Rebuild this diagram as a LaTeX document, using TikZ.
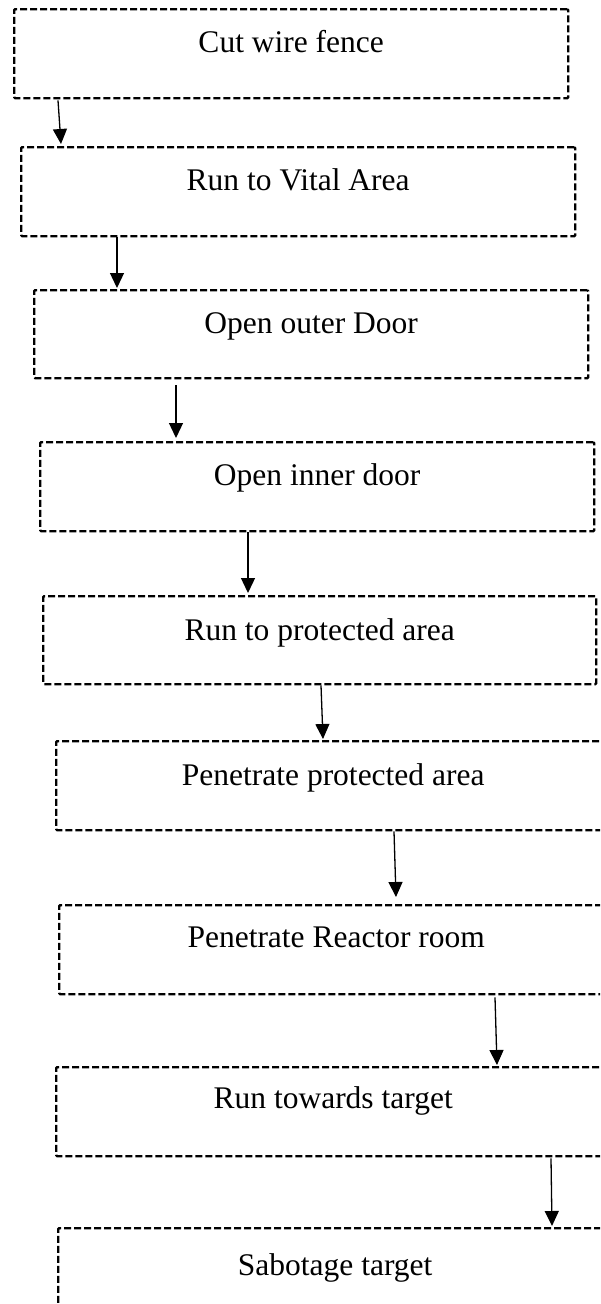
\documentclass[tikz,border=0pt]{standalone}
\usepackage{fontspec}
\setmainfont{Liberation Serif}
\usetikzlibrary{arrows.meta}
\begin{document}
\begin{tikzpicture}[x=1pt,y=-1pt]
\tikzset{
  stepbox/.style={draw, line width=2.4pt, dash pattern=on 7pt off 3pt,
    minimum width=554pt, minimum height=89pt, inner sep=0pt,
    anchor=north west, rounded corners=1pt},
  lbl/.style={font=\fontsize{31.5}{36}\selectfont, anchor=base, inner sep=0pt},
  arr/.style={line width=1.3pt, -{Triangle[width=14pt,length=15pt]}}
}
\useasboundingbox (0,0) rectangle (600,1304);
\clip (0,0) rectangle (600,1304);
% boxes
\node[stepbox] (b1) at (13,8) {};
\node[stepbox] (b2) at (20,146) {};
\node[stepbox, minimum height=88pt] (b3) at (33,289) {};
\node[stepbox] (b4) at (39,441) {};
\node[stepbox, minimum width=553pt, minimum height=88pt] (b5) at (42,595) {};
\node[stepbox] (b6) at (55,740) {};
\node[stepbox] (b7) at (58,904) {};
\node[stepbox] (b8) at (55,1066) {};
\node[stepbox] (b9) at (57,1227) {};
% labels
\node[lbl] (t1) at ([yshift=-44pt]b1.north) {Cut wire fence};
\node[lbl] (t2) at ([yshift=-44pt]b2.north) {Run to Vital Area};
\node[lbl] (t3) at ([yshift=-44pt]b3.north) {Open outer Door};
\node[lbl] (t4) at ([yshift=-44pt]b4.north) {Open inner door};
\node[lbl] (t5) at ([yshift=-45pt]b5.north) {Run to protected area};
\node[lbl] (t6) at ([yshift=-45pt]b6.north) {Penetrate protected area};
\node[lbl] (t7) at ([yshift=-43pt]b7.north) {Penetrate Reactor room};
\node[lbl] (t8) at ([yshift=-42pt]b8.north) {Run towards target};
\node[lbl] (t9) at ([yshift=-48pt]b9.north) {Sabotage target};
% arrows
\draw[arr] ([xshift=45pt,yshift=-1pt]b1.south west) -- ([xshift=41pt,yshift=2pt]b2.north west);
\draw[arr] ([xshift=97pt]b2.south west) -- ([xshift=84pt,yshift=1pt]b3.north west);
\draw[arr] ([xshift=143pt,yshift=-6pt]b3.south west) -- ([xshift=137pt,yshift=3pt]b4.north west);
\draw[arr] ([xshift=209pt]b4.south west) -- ([xshift=206pt,yshift=2pt]b5.north west);
\draw[arr] ([xshift=279pt]b5.south west) -- ([xshift=268pt,yshift=1pt]b6.north west);
\draw[arr] ([xshift=339pt]b6.south west) -- ([xshift=338pt,yshift=7pt]b7.north west);
\draw[arr] ([xshift=437pt,yshift=-2pt]b7.south west) -- ([xshift=442pt,yshift=1pt]b8.north west);
\draw[arr] ([xshift=496pt,yshift=-1pt]b8.south west) -- ([xshift=495pt,yshift=1pt]b9.north west);
\end{tikzpicture}
\end{document}
